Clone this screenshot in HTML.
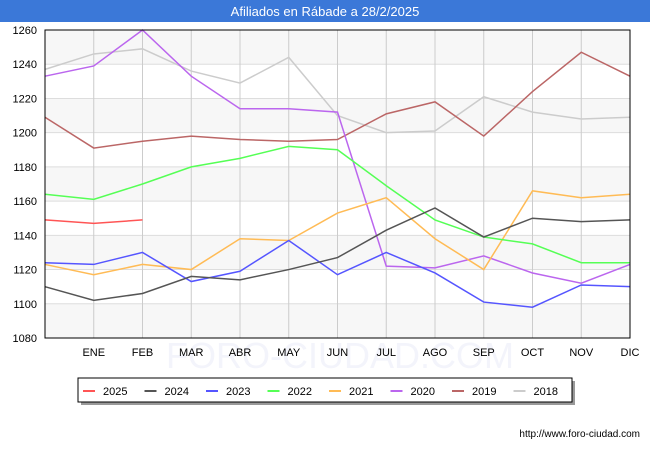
<!DOCTYPE html>
<html><head><meta charset="utf-8"><style>
body{margin:0;width:650px;height:450px;background:#fff;font-family:"Liberation Sans",sans-serif;overflow:hidden}
</style></head><body>
<svg id="c" width="650" height="450" xmlns="http://www.w3.org/2000/svg" style="display:block">
<rect x="0" y="0" width="650" height="450" fill="#fff"/>
<rect x="0" y="0" width="650" height="22" fill="#3b78d8"/>
<text x="325" y="16" fill="#fff" font-size="13" text-anchor="middle">Afiliados en Rábade a 28/2/2025</text>
<g id="plot"></g>
<text x="640" y="437" font-size="10" text-anchor="end" fill="#000">http://www.foro-ciudad.com</text>
</svg>
<script>
const months=["","ENE","FEB","MAR","ABR","MAY","JUN","JUL","AGO","SEP","OCT","NOV","DIC"];
const yTicks=[1080,1100,1120,1140,1160,1180,1200,1220,1240,1260];
const seriesNames=["2025","2024","2023","2022","2021","2020","2019","2018"];
const seriesColors=["#ff5555","#555555","#5555ff","#55ff55","#ffbb55","#bb66ee","#bb6666","#cccccc"];
const s2025=[1149,1147,1149];
const s2024=[1110,1102,1106,1116,1114,1120,1127,1143,1156,1139,1150,1148,1149];
const s2023=[1124,1123,1130,1113,1119,1137,1117,1130,1118,1101,1098,1111,1110];
const s2022=[1164,1161,1170,1180,1185,1192,1190,1169,1149,1139,1135,1124,1124];
const s2021=[1123,1117,1123,1120,1138,1137,1153,1162,1138,1120,1166,1162,1164];
const s2020=[1233,1239,1260,1233,1214,1214,1212,1122,1121,1128,1118,1112,1123];
const s2019=[1209,1191,1195,1198,1196,1195,1196,1211,1218,1198,1224,1247,1233];
const s2018=[1237,1246,1249,1236,1229,1244,1210,1200,1201,1221,1212,1208,1209];
const seriesData=[s2025,s2024,s2023,s2022,s2021,s2020,s2019,s2018];

const NS="http://www.w3.org/2000/svg";
const L=45,R=630,T=30,B=338;
const yMin=1080,yMax=1260;
const x=i=>L+i*(R-L)/(months.length-1);
const y=v=>B-(v-yMin)/(yMax-yMin)*(B-T);
const g=document.getElementById('plot');
function mk(tag,attrs){const e=document.createElementNS(NS,tag);for(const k in attrs)e.setAttribute(k,attrs[k]);g.appendChild(e);return e;}

for(let i=0;i<yTicks.length-1;i++){
  if((yTicks.length-2-i)%2===0){
    const b=mk('rect',{x:L,y:y(yTicks[i+1]),width:R-L,height:y(yTicks[i])-y(yTicks[i+1]),fill:'#f7f7f7'});
    
    
  }
}
yTicks.forEach(t=>{
  const l=mk('line',{x1:L,x2:R,y1:y(t),y2:y(t),stroke:'#dddddd','stroke-width':1});
  
  
  const tx=mk('text',{x:L-8,y:y(t)+4,'font-size':11,'text-anchor':'end',fill:'#000'});
  tx.textContent=t;
  
  
});
const wm=mk('text',{x:340,y:368,'font-size':36,'text-anchor':'middle',fill:'#f3f4fb'});
wm.textContent='FORO-CIUDAD.COM';


months.forEach((m,i)=>{
  if(i===0)return;
  const l=mk('line',{x1:x(i),x2:x(i),y1:T,y2:B,stroke:'#cccccc','stroke-width':1});
  
  
  const tx=mk('text',{x:x(i),y:B+18,'font-size':11,'text-anchor':'middle',fill:'#000'});
  tx.textContent=m;
  
  
});

for(let s=seriesData.length-1;s>=0;s--){
  const pts=seriesData[s].map((v,i)=>x(i)+','+y(v)).join(' ');
  const p=mk('polyline',{points:pts,fill:'none',stroke:seriesColors[s],'stroke-width':1.5});
  
  
}
const fr=mk('rect',{x:L,y:T,width:R-L,height:B-T,fill:'none',stroke:'#000','stroke-width':1});



const sh=mk('rect',{x:81,y:381,width:494,height:24,fill:'#999'});


const lb=mk('rect',{x:78,y:378,width:494,height:24,fill:'#fff',stroke:'#000','stroke-width':1});


seriesNames.forEach((n,i)=>{
  const lx=83+i*61.5;
  const ln=mk('line',{x1:lx,x2:lx+12,y1:391,y2:391,stroke:seriesColors[i],'stroke-width':2});
  
  
  const t=mk('text',{x:lx+20,y:395,'font-size':11,fill:'#000'});
  t.textContent=n;
  
  
});
</script>
</body></html>
